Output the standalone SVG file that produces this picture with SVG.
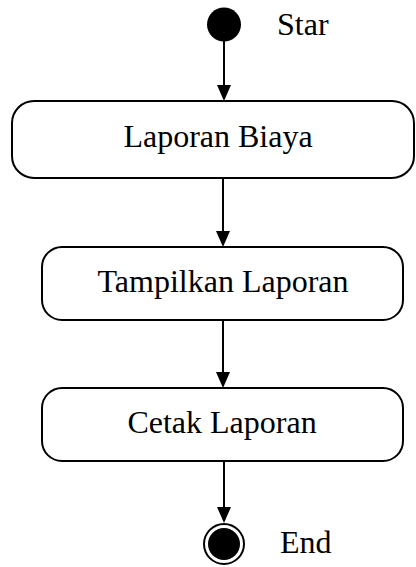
<svg xmlns="http://www.w3.org/2000/svg" width="416" height="567" viewBox="0 0 416 567">
<defs>
<style>
.box{fill:#fff;stroke:#000;stroke-width:2}
.lbl{font-family:"Liberation Serif","Times New Roman",serif;font-size:32px;fill:#000}
.ln{stroke:#000;stroke-width:2}
</style>
</defs>
<rect width="416" height="567" fill="#fff"/>
<g id="start">
<circle cx="224" cy="24.5" r="17" fill="#000"/>
<text class="lbl" x="277" y="35">Star</text>
</g>
<g id="n1">
<rect class="box" x="12" y="101" width="402" height="77" rx="22" ry="22"/>
<text class="lbl" x="218" y="147" text-anchor="middle">Laporan Biaya</text>
</g>
<g id="n2">
<rect class="box" x="42" y="247" width="361" height="73" rx="20" ry="20"/>
<text class="lbl" x="223" y="292" text-anchor="middle">Tampilkan Laporan</text>
</g>
<g id="n3">
<rect class="box" x="42" y="388" width="361" height="73" rx="20" ry="20"/>
<text class="lbl" x="222" y="433" text-anchor="middle">Cetak Laporan</text>
</g>
<g id="end">
<circle cx="224" cy="544" r="20" fill="#fff" stroke="#000" stroke-width="2"/>
<circle cx="224" cy="544" r="16" fill="#000"/>
<text class="lbl" x="280" y="553">End</text>
</g>
<g id="connectors" fill="#000">
<line class="ln" x1="224" y1="41" x2="224" y2="86"/>
<path d="M217,85 L231,85 L224,101 Z"/>
<line class="ln" x1="223" y1="178" x2="223" y2="232"/>
<path d="M216,231 L230,231 L223,247 Z"/>
<line class="ln" x1="223" y1="320" x2="223" y2="373"/>
<path d="M216,372 L230,372 L223,388 Z"/>
<line class="ln" x1="224" y1="461" x2="224" y2="508"/>
<path d="M217,507 L231,507 L224,523 Z"/>
</g>
</svg>
